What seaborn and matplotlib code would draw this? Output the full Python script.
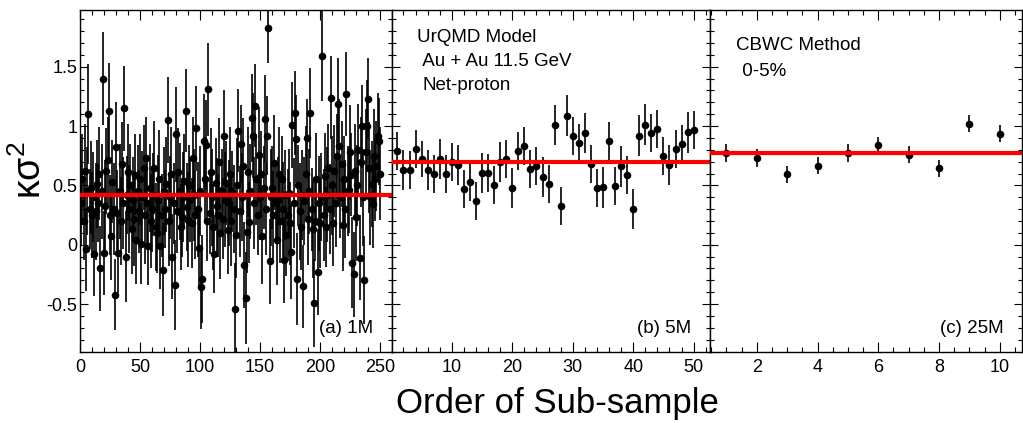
"""
Sub-sample dependence of net-proton kappa*sigma^2 (UrQMD, Au+Au 11.5 GeV).
"""
import numpy as np
import pandas as pd
import matplotlib
matplotlib.use('Agg')
import matplotlib.pyplot as plt
from matplotlib.ticker import MultipleLocator, FuncFormatter, NullFormatter
import seaborn as sns

sns.set_style("ticks")
plt.rcParams['font.family'] = ['Liberation Sans', 'DejaVu Sans']
plt.rcParams['mathtext.fontset'] = 'custom'
plt.rcParams['mathtext.rm'] = 'Liberation Sans'
plt.rcParams['text.color'] = 'black'
plt.rcParams['axes.labelcolor'] = 'black'

# (a) 1M events per sub-sample, 250 sub-samples
kappa_a = [
    0.35, 0.55, 0.20, 0.62, -0.04, 0.45, 1.10, 0.30, 0.48, 0.25,
    0.40, -0.08, 0.28, 0.51, 0.35, 0.60, -0.20, 0.45, 1.40, -0.07,
    0.33, 0.62, 0.71, 1.13, 0.25, 0.07, 0.53, 0.30, -0.42, 0.82,
    0.27, -0.07, 0.45, 0.20, 0.68, 0.35, 1.15, -0.10, 0.42, 0.61,
    0.30, 0.50, 0.13, 0.38, 0.22, 0.59, 0.04, 0.45, 0.28, 0.55,
    0.01, 0.40, 0.65, 0.25, 0.73, 0.35, -0.01, 0.48, 0.20, 0.30,
    0.42, 0.65, 0.15, 0.10, 0.38, 0.55, -0.01, 0.25, -0.21, 0.45,
    0.30, 0.51, 1.05, 0.20, 0.40, 0.60, -0.10, 0.35, -0.34, 0.93,
    0.28, 0.61, 0.45, 0.15, 0.23, 0.40, 0.54, 1.13, 0.32, 0.21,
    0.50, 0.38, 0.18, 0.73, 0.42, 0.25, 0.98, 0.30, -0.03, 0.45,
    -0.36, -0.29, 0.87, 0.55, 0.84, 0.20, 1.31, 0.27, 0.61, 0.40,
    0.15, -0.08, 0.52, 0.33, 0.25, 0.70, 0.10, 0.45, 0.22, 0.92,
    0.38, 0.52, 0.12, 0.35, 0.60, 0.20, 0.45, 0.30, -0.54, 0.08,
    0.50, 0.96, 0.28, 0.85, 0.40, 0.66, -0.17, -0.45, 0.11, 0.61,
    0.19, 0.45, 1.07, 0.92, 0.35, 1.17, 0.55, 0.25, 0.76, 0.40,
    0.60, 0.07, 0.48, 1.06, 0.30, 0.92, 1.83, -0.14, 0.40, 0.48,
    0.25, 0.69, 0.35, 0.04, 0.38, 0.60, 0.20, 0.55, 0.30, -0.13,
    0.42, 0.08, 0.25, 0.44, 0.18, -0.06, 1.01, 0.35, 1.11, 0.89,
    -0.29, 0.50, 0.28, 0.15, 0.42, -0.35, 0.37, 0.60, 0.90, 0.22,
    0.45, 1.11, 0.30, 0.13, -0.49, 0.20, 0.55, -0.23, 0.35, 0.18,
    0.40, 1.59, 0.25, 0.58, 0.15, 0.42, 0.65, 0.30, 1.24, 0.50,
    0.18, 0.62, 0.35, 0.75, 1.19, 0.83, 0.40, 0.68, 0.17, 0.55,
    0.30, 1.27, 0.45, 0.46, 0.78, 0.59, -0.15, -0.25, 0.62, 0.23,
    0.50, 0.80, -0.11, 0.70, 1.00, 0.40, -0.30, 0.78, 1.00, 1.23,
    0.65, 0.40, 0.51, 0.34, 0.75, 0.55, 0.66, 0.92, 0.87, 0.60,
]
err_a = [
    0.36, 0.38, 0.33, 0.40, 0.35, 0.37, 0.42, 0.34, 0.39, 0.36, 0.38, 0.35, 0.41, 0.37, 0.33, 0.39, 0.36, 0.40, 0.39, 0.35, 0.38, 0.36, 0.37, 0.40, 0.34,
    0.37, 0.35, 0.39, 0.30, 0.38, 0.36, 0.34, 0.40, 0.37, 0.35, 0.39, 0.36, 0.38, 0.33, 0.41, 0.37, 0.35, 0.38, 0.36, 0.40, 0.34, 0.37, 0.39, 0.35, 0.38,
    0.34, 0.39, 0.36, 0.41, 0.35, 0.38, 0.33, 0.37, 0.40, 0.36, 0.35, 0.39, 0.37, 0.34, 0.38, 0.42, 0.36, 0.35, 0.39, 0.37, 0.33, 0.40, 0.36, 0.38, 0.35,
    0.39, 0.36, 0.34, 0.38, 0.40, 0.35, 0.37, 0.41, 0.36, 0.33, 0.38, 0.39, 0.35, 0.37, 0.40, 0.34, 0.36, 0.38, 0.35, 0.39, 0.37, 0.36, 0.40, 0.34, 0.38,
    0.35, 0.37, 0.40, 0.36, 0.38, 0.34, 0.39, 0.35, 0.37, 0.41, 0.36, 0.33, 0.38, 0.40, 0.35, 0.37, 0.39, 0.36, 0.34, 0.38, 0.40, 0.35, 0.37, 0.36, 0.39,
    0.38, 0.34, 0.37, 0.39, 0.36, 0.40, 0.35, 0.38, 0.33, 0.37, 0.41, 0.36, 0.39, 0.35, 0.38, 0.34, 0.40, 0.37, 0.36, 0.39, 0.35, 0.38, 0.34, 0.40, 0.36,
    0.36, 0.40, 0.35, 0.37, 0.39, 0.33, 0.30, 0.36, 0.41, 0.35, 0.37, 0.40, 0.34, 0.38, 0.36, 0.39, 0.35, 0.37, 0.40, 0.36, 0.38, 0.34, 0.39, 0.37, 0.35,
    0.40, 0.36, 0.38, 0.35, 0.37, 0.39, 0.34, 0.41, 0.36, 0.38, 0.35, 0.37, 0.40, 0.33, 0.39, 0.36, 0.38, 0.35, 0.41, 0.37, 0.34, 0.39, 0.36, 0.40, 0.38,
    0.37, 0.38, 0.39, 0.36, 0.34, 0.40, 0.37, 0.38, 0.35, 0.42, 0.36, 0.39, 0.37, 0.35, 0.38, 0.40, 0.34, 0.36, 0.39, 0.37, 0.41, 0.35, 0.38, 0.36, 0.40,
    0.35, 0.38, 0.36, 0.40, 0.37, 0.34, 0.39, 0.36, 0.38, 0.35, 0.41, 0.37, 0.36, 0.39, 0.34, 0.38, 0.40, 0.36, 0.37, 0.39, 0.35, 0.38, 0.36, 0.37, 0.39,
]
mean_a = 0.416

# (b) 5M events per sub-sample, 50 sub-samples
kappa_b = [
    0.787, 0.632, 0.632, 0.809, 0.722, 0.627, 0.598, 0.722, 0.598, 0.697,
    0.674, 0.469, 0.525, 0.365, 0.604, 0.604, 0.500, 0.697, 0.722, 0.477,
    0.793, 0.835, 0.641, 0.663, 0.573, 0.508, 1.009, 0.323, 1.088, 0.913,
    0.857, 0.942, 0.680, 0.475, 0.483, 0.877, 0.497, 0.660, 0.584, 0.300,
    0.919, 1.012, 0.944, 0.975, 0.745, 0.674, 0.809, 0.849, 0.947, 0.964,
]
err_b = [
    0.16, 0.17, 0.16, 0.16, 0.15, 0.17, 0.16, 0.17, 0.16, 0.16,
    0.17, 0.16, 0.16, 0.16, 0.17, 0.16, 0.16, 0.17, 0.16, 0.17,
    0.16, 0.16, 0.16, 0.16, 0.17, 0.16, 0.17, 0.16, 0.17, 0.16,
    0.16, 0.17, 0.16, 0.16, 0.17, 0.16, 0.16, 0.17, 0.16, 0.17,
    0.17, 0.17, 0.16, 0.16, 0.16, 0.17, 0.16, 0.16, 0.17, 0.16,
]
mean_b = 0.697

# (c) 25M events per sub-sample, 10 sub-samples
kappa_c = [0.773, 0.731, 0.593, 0.666, 0.773, 0.838, 0.759, 0.643, 1.018, 0.936]
err_c = [0.075, 0.072, 0.073, 0.074, 0.075, 0.073, 0.074, 0.073, 0.072, 0.074]
mean_c = 0.773

panel_tags = ["(a) 1M", "(b) 5M", "(c) 25M"]

YLIM = (-0.904, 1.978)
W, H = 1023, 423


def yfmt(v, pos):
    if abs(v) < 1e-9:
        return "0"
    return f"{round(v, 2):g}"


def draw_panel(ax, vals, errs, mean, tag):
    df = pd.DataFrame({"x": np.arange(1, len(vals) + 1), "y": vals, "err": errs})
    ax.errorbar(df["x"], df["y"], yerr=df["err"], fmt="none", ecolor="black",
                elinewidth=1.2, capsize=0, zorder=2)
    sns.scatterplot(data=df, x="x", y="y", ax=ax, color="black", s=30,
                    linewidth=0, zorder=3, legend=False)
    ax.axhline(mean, color="#ff0000", lw=3, zorder=4)
    ax.set_ylim(*YLIM)
    ax.set_xlabel("")
    ax.set_ylabel("")
    ax.yaxis.set_major_locator(MultipleLocator(0.5))
    ax.yaxis.set_minor_locator(MultipleLocator(0.1))
    ax.tick_params(which="both", direction="in", top=True, right=True,
                   width=0.8, labelsize=13, colors="black", labelcolor="black")
    ax.tick_params(axis="x", which="major", length=7, pad=5)
    ax.tick_params(axis="x", which="minor", length=3.6)
    ax.tick_params(axis="y", which="major", length=6, pad=2)
    ax.tick_params(axis="y", which="minor", length=3)
    for sp in ax.spines.values():
        sp.set_visible(True)
        sp.set_linewidth(1.0)
        sp.set_color("black")
    ax.text(0.94, 0.07, tag, transform=ax.transAxes, ha="right", va="center",
            fontsize=13.5, color="black")


fig = plt.figure(figsize=(W / 100, H / 100), dpi=100)
bottom = 1 - 352 / H
height = (352 - 10) / H

ax_a = fig.add_axes([80 / W, bottom, (392 - 80) / W, height])
ax_b = fig.add_axes([392 / W, bottom, (710 - 392) / W, height])
ax_c = fig.add_axes([710 / W, bottom, (1022 - 710) / W, height])

draw_panel(ax_a, kappa_a, err_a, mean_a, panel_tags[0])
draw_panel(ax_b, kappa_b, err_b, mean_b, panel_tags[1])
draw_panel(ax_c, kappa_c, err_c, mean_c, panel_tags[2])

ax_a.set_xlim(0, 260)
ax_a.xaxis.set_major_locator(MultipleLocator(50))
ax_a.xaxis.set_minor_locator(MultipleLocator(10))
ax_a.yaxis.set_major_formatter(FuncFormatter(yfmt))

ax_b.set_xlim(0.1, 52.7)
ax_b.xaxis.set_major_locator(MultipleLocator(10))
ax_b.xaxis.set_minor_locator(MultipleLocator(2))
ax_b.xaxis.set_major_formatter(FuncFormatter(lambda v, p: "" if v < 5 else f"{v:g}"))
ax_b.yaxis.set_major_formatter(NullFormatter())

ax_c.set_xlim(0.46, 10.73)
ax_c.xaxis.set_major_locator(MultipleLocator(2))
ax_c.xaxis.set_minor_locator(MultipleLocator(0.5))
ax_c.yaxis.set_major_formatter(NullFormatter())

# annotations
fig.text(417 / W, 1 - 38 / H, "UrQMD Model", fontsize=13.5, va="center")
fig.text(418 / W, 1 - 62 / H, " Au + Au 11.5 GeV", fontsize=13.5, va="center")
fig.text(423 / W, 1 - 85 / H, "Net-proton", fontsize=13.5, va="center")
fig.text(736 / W, 1 - 46 / H, "CBWC Method", fontsize=13.5, va="center")
fig.text(737 / W, 1 - 71 / H, " 0-5%", fontsize=13.5, va="center")

fig.text(557 / W, 1 - 403 / H, "Order of Sub-sample", fontsize=25,
         ha="center", va="center")
fig.text(30 / W, 1 - 170 / H, r"κσ$\mathregular{^{2}}$", fontsize=27,
         rotation=90, ha="center", va="center")

fig.savefig("out.png", dpi=100)
plt.close(fig)
